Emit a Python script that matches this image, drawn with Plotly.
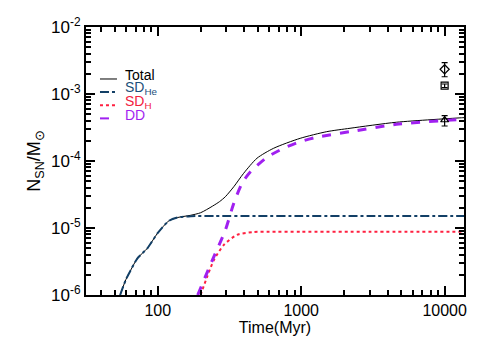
import plotly.graph_objects as go

# SN Ia rate curves (time in Myr, N_SN per Msun)
t_sdhe = [54.7, 60, 64.9, 72.2, 84.7, 99.5, 119.7, 137, 170, 250, 500, 1000, 3000, 14000]
n_sdhe = [1e-6, 1.7e-6, 2.36e-6, 3.53e-6, 4.98e-6, 8.3e-6, 1.28e-5, 1.43e-5, 1.5e-5, 1.51e-5, 1.51e-5, 1.51e-5, 1.51e-5, 1.51e-5]

t_sdh = [199, 221, 246, 289, 357, 467, 600, 1000, 3000, 14000]
n_sdh = [1e-6, 1.87e-6, 3.3e-6, 5.6e-6, 7.9e-6, 8.7e-6, 8.8e-6, 8.8e-6, 8.8e-6, 8.8e-6]

t_dd = [190, 237, 296, 339, 387, 443, 578, 754, 984, 1285, 2190, 4620, 13400, 14000]
n_dd = [1e-6, 3.1e-6, 9.3e-6, 2.34e-5, 4.65e-5, 6.92e-5, 1.135e-4, 1.55e-4, 1.94e-4, 2.26e-4, 2.74e-4, 3.53e-4, 4.19e-4, 4.21e-4]

t_tot = [54.7, 60, 64.9, 72.2, 84.7, 99.5, 119.7, 137, 170, 199, 241, 270, 296, 339, 397, 492, 643, 984, 1507, 2190, 4620, 13400, 14000]
n_tot = [1e-6, 1.7e-6, 2.36e-6, 3.53e-6, 4.98e-6, 8.3e-6, 1.28e-5, 1.43e-5, 1.55e-5, 1.69e-5, 2.12e-5, 2.48e-5, 2.93e-5, 4.13e-5,
         6.55e-5, 1.1e-4, 1.55e-4, 2.18e-4, 2.74e-4, 3.08e-4, 3.79e-4, 4.43e-4, 4.45e-4]

# observed points at 10 Gyr
obs_t = [10000, 10000, 10000]
obs_n = [2.34e-3, 1.33e-3, 4.09e-4]
obs_hi = [0.59e-3, 0.08e-3, 0.65e-4]
obs_lo = [0.53e-3, 0.08e-3, 0.76e-4]
obs_sym = ["diamond-open", "square-open", "triangle-up-open"]

# legend labels and colours
leg_names = ["Total", "SD<sub>He</sub>", "SD<sub>H</sub>", "DD"]
leg_text_colors = ["black", "#1d4f7a", "#f2203f", "#a31ff0"]
line_colors = ["black", "#123f66", "#ff2040", "#a020f0"]
line_dash = ["solid", "dashdot", "dot", "dash"]
line_width = [1, 2, 2, 3]

# tick positions
x_major = [100, 1000, 10000]
y_major = [1e-6, 1e-5, 1e-4, 1e-3, 1e-2]
x_minor = [m * 10 ** e for e in range(1, 5) for m in range(1, 10)]
y_minor = [m * 10.0 ** e for e in range(-6, -1) for m in range(1, 10)]
x_minor_text = [str(v) if v in x_major else "" for v in x_minor]
y_minor_text = ["10<sup>%d</sup>" % e if m == 1 else "" for e in range(-6, -1) for m in range(1, 10)]

fig = go.Figure()
series = [(t_tot, n_tot), (t_sdhe, n_sdhe), (t_sdh, n_sdh), (t_dd, n_dd)]
for i, (tx, ny) in enumerate(series):
    fig.add_trace(go.Scatter(x=tx, y=ny, mode="lines", showlegend=False,
                             line=dict(color=line_colors[i], width=line_width[i], dash=line_dash[i],
                                       shape="spline", smoothing=0.7)))
for i in range(3):
    fig.add_trace(go.Scatter(x=[obs_t[i]], y=[obs_n[i]], mode="markers", showlegend=False,
                             marker=dict(symbol=obs_sym[i], size=7, color="black", line=dict(width=1.2)),
                             error_y=dict(type="data", array=[obs_hi[i]], arrayminus=[obs_lo[i]],
                                          color="black", thickness=1.2, width=3)))
# dummy trace so the major-tick overlay axes are drawn
fig.add_trace(go.Scatter(x=[1000], y=[1e-9], xaxis="x2", yaxis="y2", mode="markers",
                         marker=dict(opacity=0), showlegend=False, hoverinfo="skip"))

common = dict(type="log", showgrid=False, zeroline=False, showline=True, mirror="allticks",
              linecolor="black", linewidth=2, ticks="inside", tickcolor="black", automargin=False)

xr = [1.5, 4.135]
yr = [-6, -2]
fig.update_layout(
    width=491, height=350,
    margin=dict(l=86, r=27, t=27, b=55),
    paper_bgcolor="white", plot_bgcolor="white",
    font=dict(family="Liberation Sans, Arial, sans-serif", color="black"),
    showlegend=False,
    xaxis=dict(**common, range=xr, tickvals=x_minor, ticktext=x_minor_text,
               ticklen=5, tickwidth=1.5, tickfont=dict(size=16, color="black"),
               title=dict(text="Time(Myr)", font=dict(size=16, color="black"), standoff=2)),
    yaxis=dict(**common, range=yr, tickvals=y_minor, ticktext=y_minor_text,
               ticklen=5, tickwidth=1.5, tickfont=dict(size=17, color="black"),
               title=dict(text="N<sub>SN</sub>/M<sub>\u2299</sub>", font=dict(size=18, color="black"), standoff=6)),
    xaxis2=dict(**common, overlaying="x", anchor="y", side="bottom", range=xr, tickvals=x_major,
                showticklabels=False, ticklen=9, tickwidth=2),
    yaxis2=dict(**common, overlaying="y", anchor="x", side="left", range=yr, tickvals=y_major,
                showticklabels=False, ticklen=9, tickwidth=2),
)

# hand-drawn legend in the upper left, as in the reference
leg_y = [0.820, 0.771, 0.722, 0.673]
for i in range(4):
    fig.add_shape(type="line", xref="paper", yref="paper", x0=0.037, x1=0.082,
                  y0=leg_y[i] - 0.014, y1=leg_y[i] - 0.014,
                  line=dict(color=line_colors[i], width=min(line_width[i], 2), dash=line_dash[i]))
    fig.add_annotation(xref="paper", yref="paper", x=0.097, y=leg_y[i], xanchor="left", yanchor="middle",
                       text=leg_names[i], showarrow=False, font=dict(size=14, color=leg_text_colors[i]))

# drop the default page margin so the figure sits at the window corner
fig.write_html("out.html", config={"displayModeBar": False},
               post_script="document.body.style.margin='0';")
